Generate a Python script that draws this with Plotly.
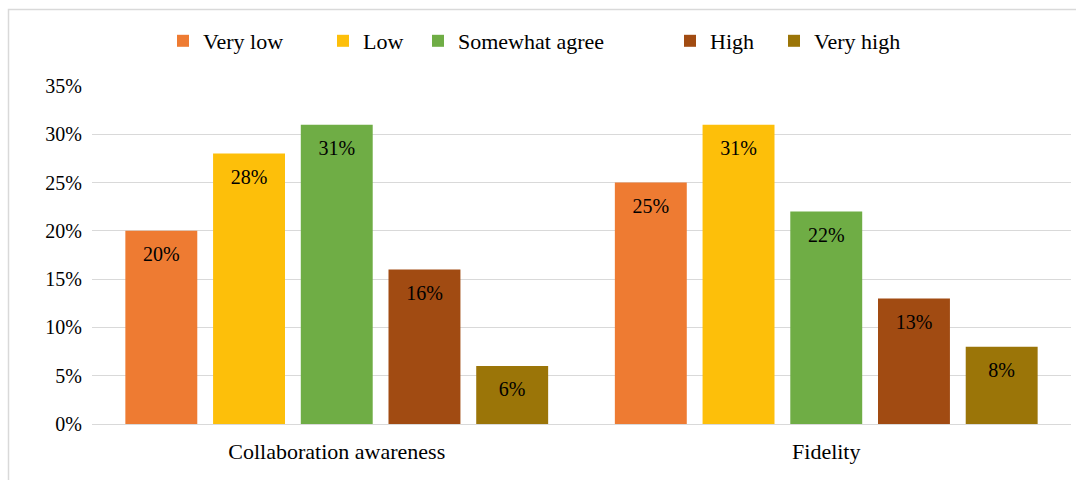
import plotly.graph_objects as go

# Survey results per dimension (share of respondents)
categories = ["Collaboration awareness", "Fidelity"]
levels = ["Very low", "Low", "Somewhat agree", "High", "Very high"]
very_low = [0.20, 0.25]
low = [0.28, 0.31]
somewhat_agree = [0.31, 0.22]
high = [0.16, 0.13]
very_high = [0.06, 0.08]
y_ticks = [0, 0.05, 0.10, 0.15, 0.20, 0.25, 0.30, 0.35]

series = [very_low, low, somewhat_agree, high, very_high]
colors = ["#EE7B32", "#FDBF0A", "#6FAD45", "#A14B12", "#9B7508"]

W, H = 1076, 480
ML, MR, MT, MB = 92, 5, 86, 56
FONT = "Liberation Serif"
GAP = 0.104

# one legend per series so each entry sits at its own spot
legend_text_x = [203, 363, 458, 710, 814]

fig = go.Figure()
for i, (name, vals, col) in enumerate(zip(levels, series, colors)):
    lg = "legend" if i == 0 else f"legend{i + 1}"
    fig.add_trace(go.Bar(
        x=categories, y=vals, name=name,
        marker=dict(color=col, line=dict(width=0)),
        offsetgroup=f"g{i}",
        legend=lg, hoverinfo="skip",
    ))

# value labels: grouped text points sitting just under each bar top
for i, (name, vals) in enumerate(zip(levels, series)):
    fig.add_trace(go.Scatter(
        x=categories, y=vals, mode="markers+text",
        text=[f"{v:.0%}" for v in vals], textposition="bottom center",
        textfont=dict(family=FONT, size=20, color="black"),
        marker=dict(size=23, color="rgba(0,0,0,0)"),
        offsetgroup=f"g{i}", showlegend=False, hoverinfo="skip",
        cliponaxis=False,
    ))

legend_layouts = {}
for i, tx in enumerate(legend_text_x):
    key = "legend" if i == 0 else f"legend{i + 1}"
    legend_layouts[key] = dict(
        x=(tx - 40) / W, xref="container", xanchor="left",
        y=1 - 41 / H, yref="container", yanchor="middle",
        orientation="h", bgcolor="rgba(0,0,0,0)",
        font=dict(family=FONT, size=22, color="black"),
        borderwidth=0, itemwidth=30,
    )

fig.update_layout(
    width=W, height=H,
    margin=dict(l=ML, r=MR, t=MT, b=MB, pad=0),
    paper_bgcolor="white", plot_bgcolor="white",
    barmode="group", bargap=GAP, bargroupgap=0.18,
    scattermode="group", scattergap=GAP,
    font=dict(family=FONT, size=20, color="black"),
    showlegend=True,
    **legend_layouts,
)

fig.update_yaxes(
    range=[0, 0.35], tickvals=y_ticks, tickformat=".0%",
    showgrid=True, gridcolor="#D9D9D9", gridwidth=1,
    zeroline=True, zerolinecolor="#D9D9D9", zerolinewidth=1,
    showline=False, ticks="", ticklabelstandoff=9,
    tickfont=dict(family=FONT, size=20, color="black"),
)
fig.update_xaxes(
    showgrid=False, showline=False, ticks="", ticklabelstandoff=12,
    tickfont=dict(family=FONT, size=22, color="black"),
)

# thin frame around the chart area
pw, ph = W - ML - MR, H - MT - MB
fig.add_shape(
    type="rect", xref="paper", yref="paper",
    x0=(8.5 - ML) / pw, x1=(W + 20 - ML) / pw,
    y0=(H - MB - 9.5) / ph, y1=-(MB + 20) / ph,
    line=dict(color="#D9D9D9", width=1.5), fillcolor="rgba(0,0,0,0)",
    layer="below",
)

fig.write_html("out.html")
